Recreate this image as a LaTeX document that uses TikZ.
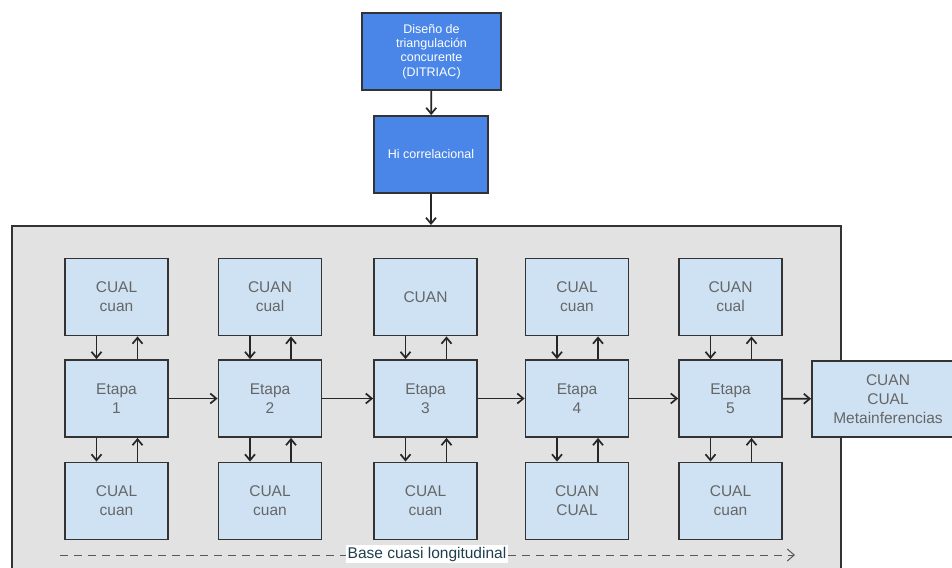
\documentclass[tikz,border=0pt]{standalone}
\usepackage{fontspec}
\setmainfont{Liberation Sans}
\usetikzlibrary{arrows.meta}
\definecolor{bluebox}{HTML}{4A86E8}
\definecolor{lightbox}{HTML}{CFE2F3}
\definecolor{panel}{HTML}{E2E2E2}
\definecolor{edge}{HTML}{333333}
\definecolor{txt}{HTML}{666666}
\definecolor{labtxt}{HTML}{1F3F4F}
\tikzset{
  bluenode/.style={draw=edge, line width=1.8pt, fill=bluebox, text=white, align=center,
    font=\fontsize{12.5}{14.2}\selectfont, inner sep=0pt},
  lightnode/.style={draw=edge, line width=1.8pt, fill=lightbox, text=txt, align=center,
    font=\fontsize{15.5}{19}\selectfont, minimum width=103pt, minimum height=77pt, inner sep=0pt},
  arr/.style={draw=black!85, line width=1.7pt, -{Straight Barb[length=6pt,width=10pt,line width=1.7pt]}},
}
\begin{document}
\begin{tikzpicture}[x=1pt,y=-1pt]
\useasboundingbox (0,0) rectangle (952,567);
\fill[white] (0,0) rectangle (952,567);
% top
\node[bluenode, minimum width=139pt, minimum height=77pt] (d) at (431.5,51.5)
  {Diseño de\\triangulación\\concurente\\(DITRIAC)};
\node[bluenode, minimum width=114pt, minimum height=77pt] (hi) at (431,154.5) {Hi correlacional};
% panel
\node[draw=edge, line width=1.8pt, fill=panel, minimum width=829pt, minimum height=375pt,
  anchor=north west, inner sep=0pt] (bg) at (11,225) {};
\draw[arr] (d) -- (hi);
\draw[arr] (hi) -- (hi |- bg.north);
% columns
\foreach \i/\cx/\top/\bot in {
  1/116.5/{CUAL\\cuan}/{CUAL\\cuan},
  2/270/{CUAN\\cual}/{CUAL\\cuan},
  3/425.5/{CUAN}/{CUAL\\cuan},
  4/577/{CUAL\\cuan}/{CUAN\\CUAL},
  5/730.5/{CUAN\\cual}/{CUAL\\cuan}} {
  \node[lightnode] (t\i) at (\cx,297) {\top};
  \node[lightnode] (e\i) at (\cx,398.5) {Etapa\\\i};
  \node[lightnode] (b\i) at (\cx,501) {\bot};
  \draw[arr] ([xshift=-20pt]t\i.south) -- ([xshift=-20pt]e\i.north);
  \draw[arr] ([xshift=21pt]e\i.north) -- ([xshift=21pt]t\i.south);
  \draw[arr] ([xshift=-20pt]e\i.south) -- ([xshift=-20pt]b\i.north);
  \draw[arr] ([xshift=21pt]b\i.north) -- ([xshift=21pt]e\i.south);
}
\node[lightnode, minimum width=152pt, minimum height=76pt] (m) at (888,399) {CUAN\\CUAL\\Metainferencias};
\draw[arr] (e1) -- (e2);
\draw[arr] (e2) -- (e3);
\draw[arr] (e3) -- (e4);
\draw[arr] (e4) -- (e5);
\draw[arr] (e5) -- (m);
% dashed base line
\coordinate (ds) at (60,555);
\coordinate (de) at (795,555);
\draw[draw=black!65, line width=1pt, dash pattern=on 8pt off 6pt,
  -{Straight Barb[length=7pt,width=12pt,line width=1pt]}] (ds) -- (de);
\node[fill=white, text=labtxt, font=\fontsize{15.5}{17}\selectfont, inner sep=1.5pt] (lab) at (427,554) {Base cuasi longitudinal};
\end{tikzpicture}
\end{document}
